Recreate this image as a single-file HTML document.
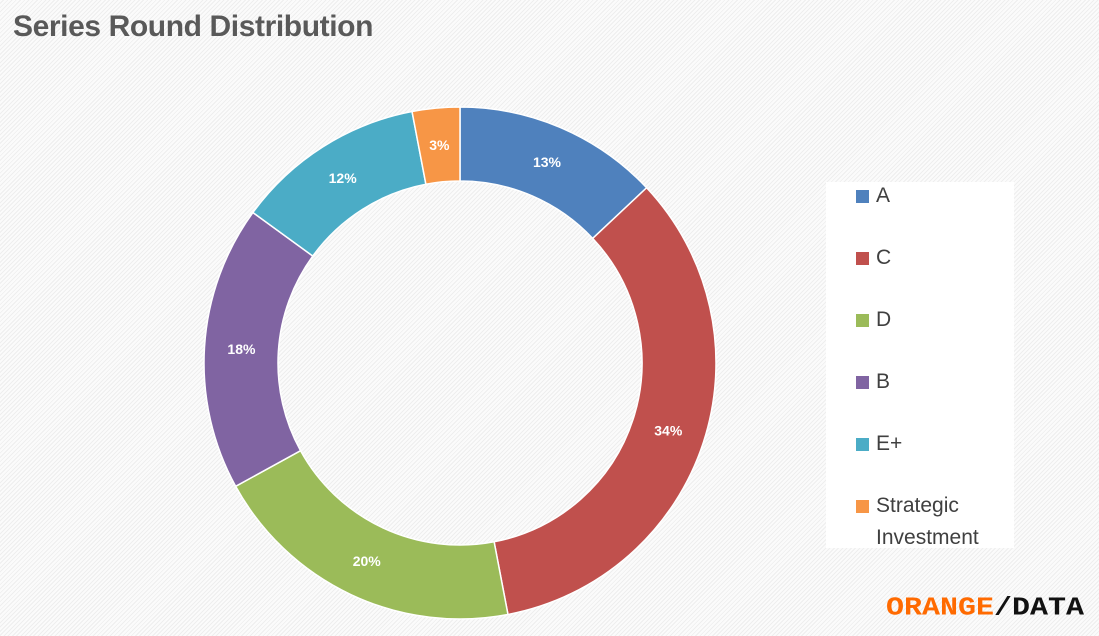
<!DOCTYPE html>
<html><head><meta charset="utf-8"><style>
body{margin:0;width:1099px;height:636px;overflow:hidden;font-family:"Liberation Sans",sans-serif;
background:repeating-linear-gradient(135deg,#fbfbfb 0 2px,#eeeeee 2px 3px);}
#title{position:absolute;left:13px;top:10px;font-size:30px;font-weight:bold;color:#595959;letter-spacing:-0.4px}
#legend{position:absolute;left:826px;top:182px;width:188px;height:366px;background:#fff}
.li{position:absolute;font-size:21px;color:#404040;line-height:32px}
.sw{position:absolute;width:13px;height:13px;left:-20px;top:10px}
#logo{position:absolute;left:886px;top:594px;font-size:30px;font-weight:bold;letter-spacing:0;font-family:"Liberation Mono",monospace;transform:scaleY(0.85);transform-origin:left top}
</style></head><body>
<div id="title">Series Round Distribution</div>
<svg id="chart" width="1099" height="636" style="position:absolute;left:0;top:0"></svg>
<div id="legend"></div>
<div id="logo"><span style="color:#ff6a00">ORANGE</span><span style="color:#111">/DATA</span></div>
<script>
const categories=["A","C","D","B","E+","Strategic Investment"];
const values=[13,34,20,18,12,3];
const colors=["#4f81bd","#c0504d","#9bbb59","#8064a2","#4bacc6","#f79646"];
const cx=460,cy=363,R=256,r=182;
const svg=document.getElementById('chart');
const ns="http://www.w3.org/2000/svg";
const total=values.reduce((a,b)=>a+b,0);
function pt(a,rad){return [cx+rad*Math.sin(a),cy-rad*Math.cos(a)];}
let ang=0;
values.forEach((v,i)=>{
  const a0=ang,a1=ang+v/total*2*Math.PI;ang=a1;
  const large=(a1-a0)>Math.PI?1:0;
  const p1=pt(a0,R),p2=pt(a1,R),p3=pt(a1,r),p4=pt(a0,r);
  const p=document.createElementNS(ns,'path');
  p.setAttribute('d',`M${p1}A${R},${R} 0 ${large} 1 ${p2}L${p3}A${r},${r} 0 ${large} 0 ${p4}Z`);
  p.setAttribute('fill',colors[i]);p.setAttribute('stroke','#fff');p.setAttribute('stroke-width','1.5');
  
  
  svg.appendChild(p);
  const m=(a0+a1)/2,lp=pt(m,(R+r)/2);
  const t=document.createElementNS(ns,'text');
  t.setAttribute('x',lp[0]);t.setAttribute('y',lp[1]+5);t.setAttribute('text-anchor','middle');
  t.setAttribute('fill','#fff');t.setAttribute('font-size','14');t.setAttribute('font-weight','bold');
  t.setAttribute('font-family','Liberation Sans, sans-serif');
  t.textContent=Math.round(v/total*100)+'%';
  
  
  svg.appendChild(t);
});
const lg=document.getElementById('legend');
categories.forEach((c,i)=>{
  const d=document.createElement('div');d.className='li';
  d.style.top=(i*62-2)+'px';
  d.style.left='50px';
  
  
  const s=document.createElement('div');s.className='sw';s.style.background=colors[i];
  d.appendChild(s);
  const txt=document.createElement('span');txt.innerHTML=c==="Strategic Investment"?"Strategic<br>Investment":c;
  d.appendChild(txt);
  lg.appendChild(d);
});
</script>
</body></html>
